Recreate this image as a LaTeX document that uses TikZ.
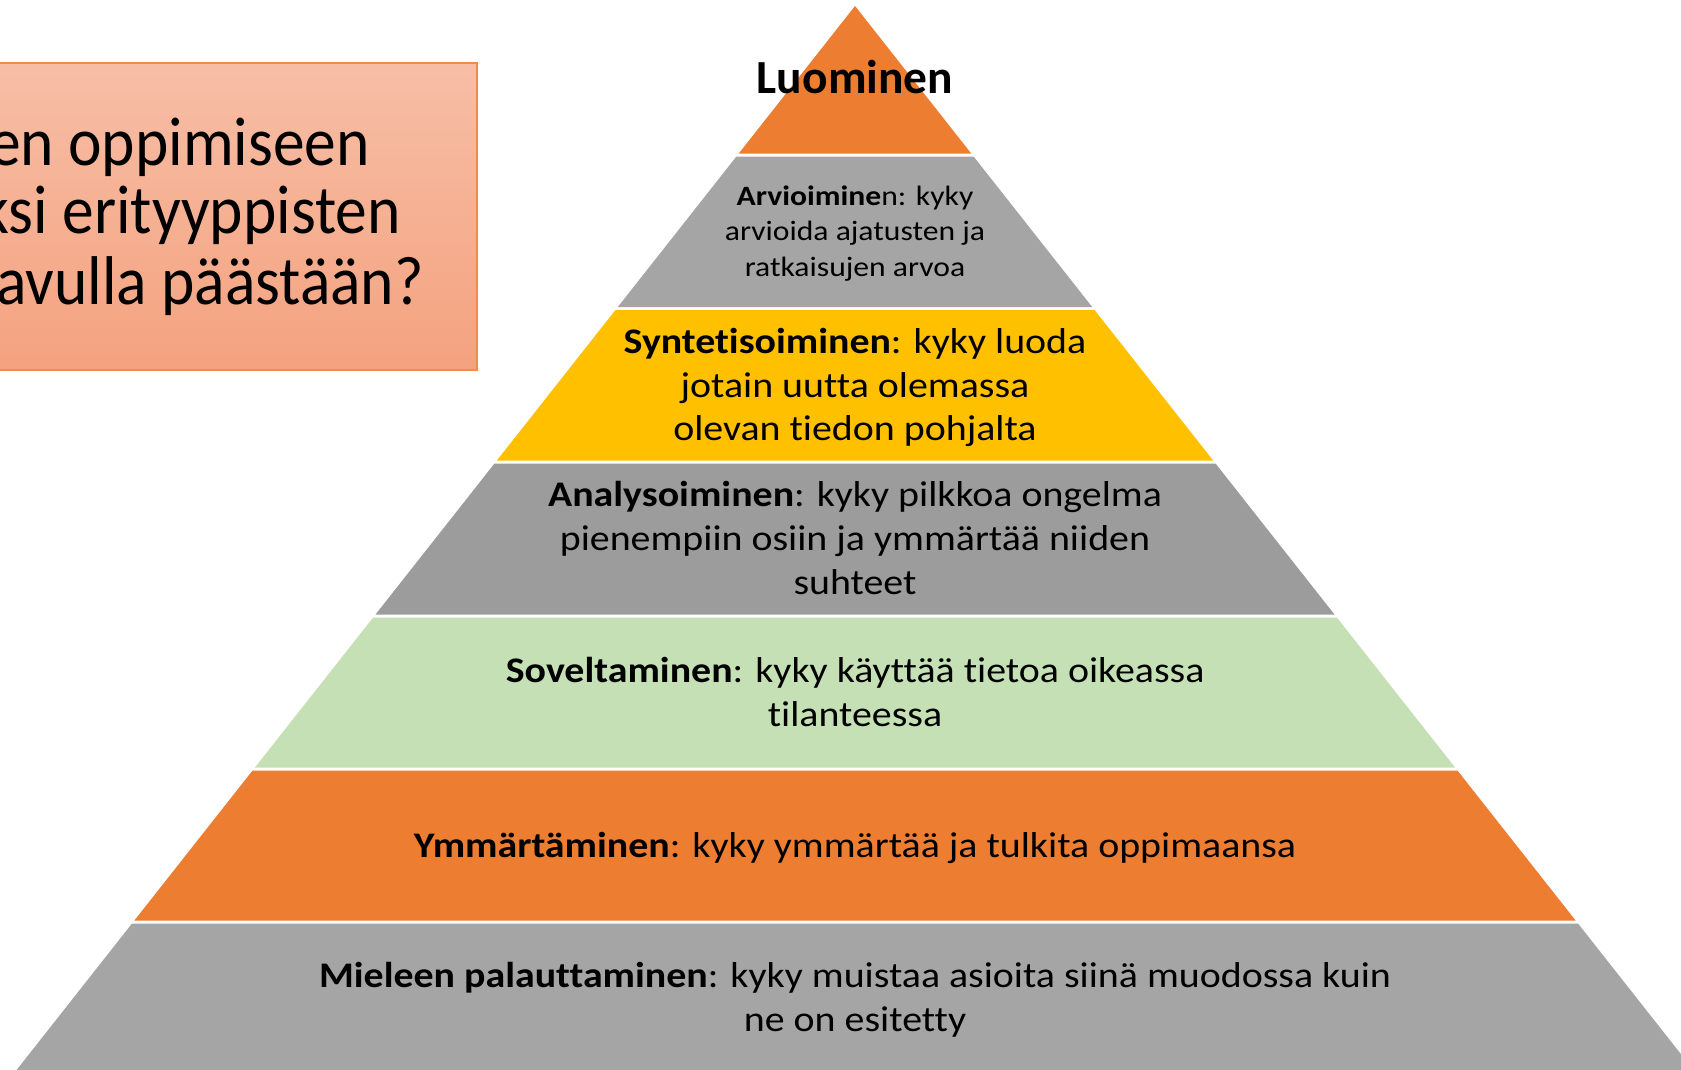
\documentclass[tikz,border=0pt]{standalone}
\usepackage{fontspec}
\setmainfont{Carlito}[Ligatures=NoCommon]
\newfontfamily\bodyfont{Carlito}[FakeStretch=1.108, Ligatures=NoCommon]
\newfontfamily\smallbodyfont{Carlito}[FakeStretch=1.13, Ligatures=NoCommon]
\newfontfamily\boxfont{Carlito}[FakeStretch=0.92, Ligatures=NoCommon]
\definecolor{porange}{HTML}{ED7D31}
\definecolor{pgray}{HTML}{A5A5A5}
\definecolor{pgraydark}{HTML}{9C9C9C}
\definecolor{pyellow}{HTML}{FFC000}
\definecolor{pgreen}{HTML}{C5E0B4}
\definecolor{boxtop}{HTML}{F7BEA6}
\definecolor{boxbot}{HTML}{F4A27F}
\definecolor{boxedge}{HTML}{F08B4E}
\newcommand\pyrlayer[3]{%
  \fill[#3] ({855-(#1-6)*0.788},#1) -- ({855+(#1-6)*0.788},#1)
    -- ({855+(#2-6)*0.788},#2) -- ({855-(#2-6)*0.788},#2) -- cycle;}
\tikzset{
  big/.style={font=\bodyfont\fontsize{36}{43}\selectfont, inner sep=0pt, anchor=base},
  mid/.style={font=\smallbodyfont\fontsize{28}{35}\selectfont, inner sep=0pt, anchor=base},
  top/.style={font=\fontsize{47.5}{57}\selectfont\bfseries, inner sep=0pt, anchor=base},
  boxtext/.style={font=\boxfont\fontsize{69}{69}\selectfont, inner sep=0pt, anchor=base east}
}
\begin{document}
\begin{tikzpicture}[x=1pt,y=-1pt]
\useasboundingbox (0,0) rectangle (1681,1069);
\clip (0,0) rectangle (1681,1069);
\fill[white] (0,0) rectangle (1681,1069);
% question box
\shade[top color=boxtop, bottom color=boxbot] (-10,63) rectangle (477,370);
\draw[boxedge, line width=1.5pt] (-10,63) rectangle (477,370);
\node[boxtext] (q1) at (370,165) {en oppimiseen};
\node[boxtext] (q2) at (401,233) {ksi erityyppisten};
\node[boxtext] (q3) at (424,304) {avulla päästään?};
% pyramid layers
\pyrlayer{6}{153.5}{porange}
\pyrlayer{156.5}{307}{pgray}
\pyrlayer{310}{460.5}{pyellow}
\pyrlayer{463.5}{614.5}{pgraydark}
\pyrlayer{617.5}{767.5}{pgreen}
\pyrlayer{770.5}{920.5}{porange}
\pyrlayer{923.5}{1090}{pgray}
% texts
\node[top] (l1) at (855,93) {Luominen};
\node[mid] (a1) at (855,205) {\textbf{Arvioimine}n: kyky};
\node[mid] (a2) at (855,240) {arvioida ajatusten ja};
\node[mid] (a3) at (855,276) {ratkaisujen arvoa};
\node[big] (s1) at (855,353) {\textbf{Syntetisoiminen}: kyky luoda};
\node[big] (s2) at (855,397) {jotain uutta olemassa};
\node[big] (s3) at (855,440) {olevan tiedon pohjalta};
\node[big] (an1) at (855,506) {\textbf{Analysoiminen}: kyky pilkkoa ongelma};
\node[big] (an2) at (855,550) {pienempiin osiin ja ymmärtää niiden};
\node[big] (an3) at (855,594) {suhteet};
\node[big] (so1) at (855,682) {\textbf{Soveltaminen}: kyky käyttää tietoa oikeassa};
\node[big] (so2) at (855,726) {tilanteessa};
\node[big] (y1) at (855,857) {\textbf{Ymmärtäminen}: kyky ymmärtää ja tulkita oppimaansa};
\node[big] (m1) at (855,987) {\textbf{Mieleen palauttaminen}: kyky muistaa asioita siinä muodossa kuin};
\node[big] (m2) at (855,1031) {ne on esitetty};
\end{tikzpicture}
\end{document}
